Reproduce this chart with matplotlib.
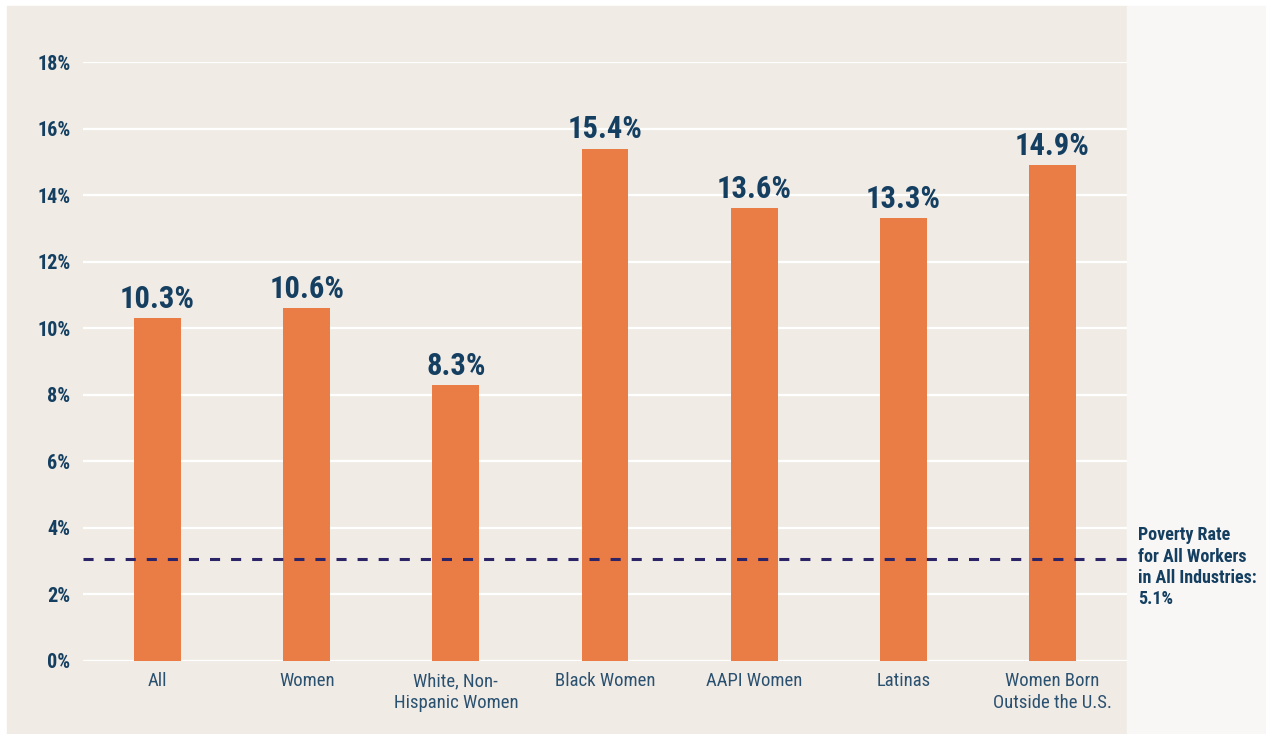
import matplotlib.pyplot as plt
from matplotlib import font_manager
from matplotlib.patches import Rectangle

# data
categories = ['All', 'Women', 'White, Non-\nHispanic Women', 'Black Women',
              'AAPI Women', 'Latinas', 'Women Born\nOutside the U.S.']
rates = [10.3, 10.6, 8.3, 15.4, 13.6, 13.3, 14.9]
value_labels = ['10.3%', '10.6%', '8.3%', '15.4%', '13.6%', '13.3%', '14.9%']
yticks = [0, 2, 4, 6, 8, 10, 12, 14, 16, 18]
ytick_labels = [f'{v}%' for v in yticks]
line_level = 3.06   # where the reference line sits on the chart
line_text = 'Poverty Rate\nfor All Workers\nin All Industries:\n5.1%'

# pick a narrow face if one is installed
names = {f.name for f in font_manager.fontManager.ttflist}
FONT = ['DejaVu Sans']
STRETCH = 'condensed'
for cand in ['Liberation Sans Narrow', 'Roboto Condensed', 'Open Sans Condensed',
             'Noto Sans Condensed', 'DejaVu Sans Condensed']:
    if cand in names:
        FONT = [cand, 'DejaVu Sans']
        STRETCH = 'normal'
        break

NAVY = '#153f61'
ORANGE = '#ea7c45'
BEIGE = '#f0ebe5'

W, H = 1266, 734
fig = plt.figure(figsize=(W / 100, H / 100), dpi=100)
fig.patch.set_facecolor('white')

# background panels
fig.patches.append(Rectangle((7 / W, 0), (1127 - 7) / W, (H - 6) / H,
                             transform=fig.transFigure, color=BEIGE, zorder=-2))
fig.patches.append(Rectangle((1127 / W, 0), (W - 1127) / W, (H - 6) / H,
                             transform=fig.transFigure, color='#f8f7f5', zorder=-2))

ax = fig.add_axes([83 / W, (H - 661) / H, (1127 - 83) / W, (661 - 62) / H])
ax.set_facecolor('none')

x = range(len(categories))
ax.bar(x, rates, width=0.315, color=ORANGE, zorder=2)

for xi, v, lab in zip(x, rates, value_labels):
    ax.annotate(lab, (xi, v), xytext=(0, 3), textcoords='offset points',
                ha='center', va='bottom', fontsize=22, fontweight='bold',
                color=NAVY, family=FONT, fontstretch=STRETCH)

ax.axhline(line_level, color='#2b2466', lw=2.2, dashes=(3.3, 3.6), zorder=3)

ax.set_xlim(-0.5, 6.5)
ax.set_ylim(0, 18)
ax.set_yticks(yticks)
ax.set_yticklabels(ytick_labels)
ax.grid(axis='y', color='white', lw=1.6, zorder=1)
ax.set_axisbelow(True)
ax.set_xticks(list(x))
ax.set_xticklabels(categories)

for lab in ax.get_yticklabels():
    lab.set_family(FONT)
    lab.set_fontstretch(STRETCH)
    lab.set_fontweight('bold')
    lab.set_fontsize(14.5)
    lab.set_color(NAVY)
for lab in ax.get_xticklabels():
    lab.set_family(FONT)
    lab.set_fontstretch(STRETCH)
    lab.set_fontsize(13.5)
    lab.set_color('#2b5170')
    lab.set_linespacing(1.25)

ax.tick_params(axis='both', length=0)
ax.tick_params(axis='y', pad=9)
ax.tick_params(axis='x', pad=8)
for s in ax.spines.values():
    s.set_visible(False)

fig.text(1138 / W, (H - 526) / H, line_text, ha='left', va='top',
         fontsize=13, fontweight='bold', color=NAVY, family=FONT,
         fontstretch=STRETCH, linespacing=1.25)

fig.savefig('out.png', dpi=100)
